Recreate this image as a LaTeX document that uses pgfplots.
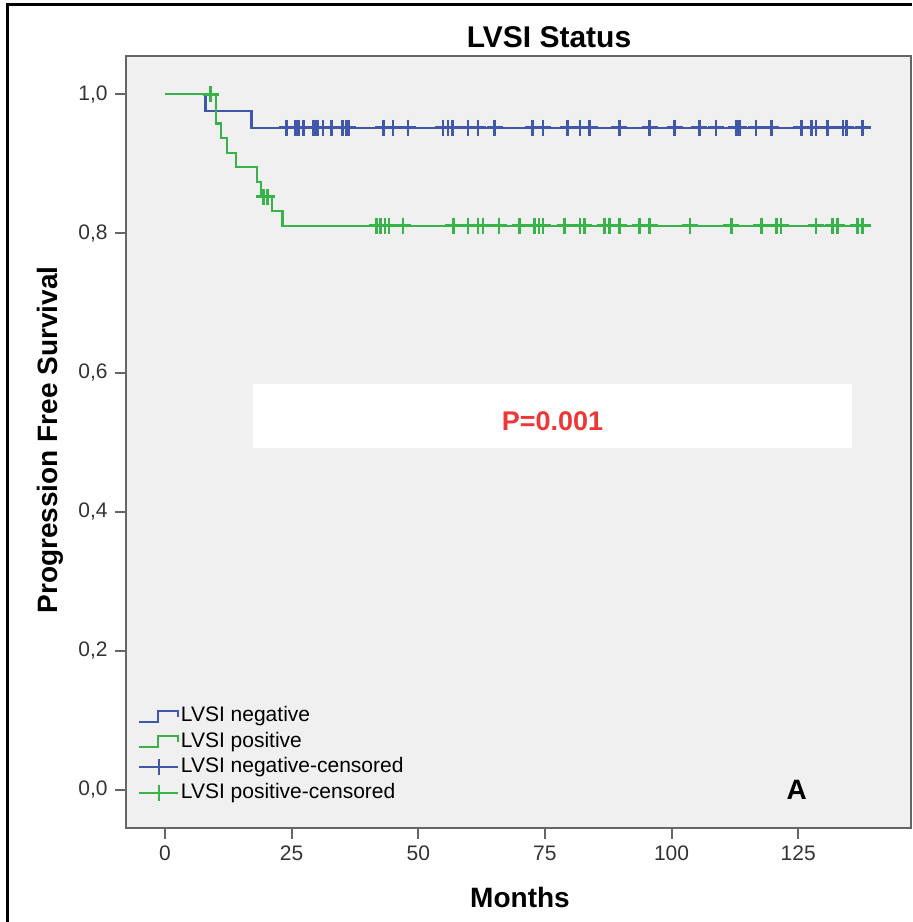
\documentclass[border=0pt]{standalone}
\usepackage{fontspec}
\setmainfont{Liberation Sans}
\usepackage{pgfplots}
\pgfplotsset{compat=1.18}
\definecolor{lvsineg}{HTML}{4057AA}
\definecolor{lvsipos}{HTML}{38B349}
\definecolor{panelgray}{HTML}{F0F0F0}
\definecolor{pred}{HTML}{EE3838}

\begin{document}
\begin{tikzpicture}
\useasboundingbox (0,0) rectangle (456pt,461pt);
\draw[line width=1.5pt] (3.5pt,0) -- (3.5pt,458.5pt) -- (456pt,458.5pt);
\node[font=\fontsize{15}{18}\selectfont\bfseries] at (274.5pt,442.5pt) {LVSI Status};
\node[font=\fontsize{14}{17}\selectfont\bfseries,rotate=90] at (25pt,241pt) {Progression Free Survival};
\node[font=\fontsize{14}{17}\selectfont\bfseries] at (260pt,12.5pt) {Months};
\begin{axis}[at={(62.85pt,47pt)},anchor=south west,scale only axis,width=392.5pt,height=386pt,
  xmin=-7.75,xmax=147.2,ymin=-0.0547,ymax=1.055,
  axis background/.style={fill=panelgray},
  axis line style={draw=black!60,line width=1.2pt},
  xtick={0,25,50,75,100,125},ytick={0,0.2,0.4,0.6,0.8,1},
  tick align=outside,major tick length=5.5pt,tick style={draw=black!60,line width=1pt},
  xtick pos=bottom,ytick pos=left,
  tick label style={font=\fontsize{10.5}{12}\selectfont,text=black!80},
  /pgf/number format/assume math mode=true,
  yticklabel style={/pgf/number format/.cd,use comma,fixed,fixed zerofill,precision=1},
  legend style={at={(0.0157,0.162)},anchor=north west,draw=none,fill=none,inner sep=0pt,
    font=\fontsize{10.5}{12}\selectfont,cells={anchor=west},
    nodes={inner xsep=0.75pt,inner ysep=1.5pt,text height=7.6pt,text depth=2.2pt},
    /tikz/every even column/.append style={column sep=0pt}},
  clip=false]
\fill[white] (axis cs:17.4,0.491) rectangle (axis cs:135.7,0.583);
\node[font=\fontsize{13.5}{16}\selectfont\bfseries,text=pred] at (axis cs:76.5,0.53) {P=0.001};
\node[font=\fontsize{14}{16}\selectfont\bfseries] at (axis cs:124.7,0.0) {A};

\addplot[const plot,lvsineg,line width=1.1pt,
  legend image code/.code={\draw[lvsineg,line width=1pt] (0pt,-2.75pt)--(9.5pt,-2.75pt)--(9.5pt,2.75pt)--(19.5pt,2.75pt)--(19.5pt,-0.25pt);}]
  coordinates {(0,1) (8,0.976) (17.1,0.952) (139.2,0.952)};
\addlegendentry{LVSI negative}

\addplot[const plot,lvsipos,line width=1.1pt,
  legend image code/.code={\draw[lvsipos,line width=1pt] (0pt,-2.75pt)--(9.5pt,-2.75pt)--(9.5pt,2.75pt)--(19.5pt,2.75pt)--(19.5pt,-0.25pt);}]
  coordinates {(0,1) (10,0.958) (11,0.937) (12.3,0.916) (14.1,0.895) (18.1,0.874) (19,0.853) (21.1,0.832) (23.2,0.811) (139.2,0.811)};
\addlegendentry{LVSI positive}

\addplot[only marks,mark=+,mark size=4pt,mark options={lvsineg,line width=1.3pt},
  legend image code/.code={\draw[lvsineg,line width=1pt] (0pt,0pt)--(19.5pt,0pt) (9.75pt,-4pt)--(9.75pt,4pt);}]
  table[row sep=\\]{x y\\
24.0 0.952\\ 25.8 0.952\\ 26.4 0.952\\ 27.3 0.952\\ 29.3 0.952\\ 29.7 0.952\\ 30.2 0.952\\
31.2 0.952\\ 32.9 0.952\\ 35.0 0.952\\ 35.7 0.952\\ 36.2 0.952\\ 43.1 0.952\\ 45.0 0.952\\
48.0 0.952\\ 54.9 0.952\\ 55.9 0.952\\ 56.7 0.952\\ 59.8 0.952\\ 61.8 0.952\\ 65.1 0.952\\
72.6 0.952\\ 74.6 0.952\\ 79.5 0.952\\ 81.9 0.952\\ 83.8 0.952\\ 89.7 0.952\\ 95.7 0.952\\
100.6 0.952\\ 105.5 0.952\\ 108.8 0.952\\ 112.8 0.952\\ 113.4 0.952\\ 116.7 0.952\\ 119.7 0.952\\
125.6 0.952\\ 127.6 0.952\\ 128.5 0.952\\ 130.8 0.952\\ 133.8 0.952\\ 134.5 0.952\\ 137.7 0.952\\
};
\addlegendentry{LVSI negative-censored}

\addplot[only marks,mark=+,mark size=4pt,mark options={lvsipos,line width=1.3pt},
  legend image code/.code={\draw[lvsipos,line width=1pt] (0pt,0pt)--(19.5pt,0pt) (9.75pt,-4pt)--(9.75pt,4pt);}]
  table[row sep=\\]{x y\\
9.0 1\\ 19.5 0.853\\ 20.2 0.853\\
41.8 0.811\\ 42.5 0.811\\ 43.4 0.811\\ 44.2 0.811\\ 47.0 0.811\\ 56.9 0.811\\ 59.8 0.811\\
61.8 0.811\\ 62.8 0.811\\ 65.9 0.811\\ 70.0 0.811\\ 72.9 0.811\\ 73.8 0.811\\ 74.6 0.811\\
78.9 0.811\\ 81.9 0.811\\ 82.8 0.811\\ 86.8 0.811\\ 87.8 0.811\\ 89.7 0.811\\ 93.7 0.811\\
95.7 0.811\\ 103.6 0.811\\ 111.8 0.811\\ 117.7 0.811\\ 120.7 0.811\\ 121.6 0.811\\ 128.5 0.811\\
131.8 0.811\\ 132.7 0.811\\ 136.7 0.811\\ 137.7 0.811\\
};
\addlegendentry{LVSI positive-censored}
\end{axis}
\end{tikzpicture}
\end{document}
